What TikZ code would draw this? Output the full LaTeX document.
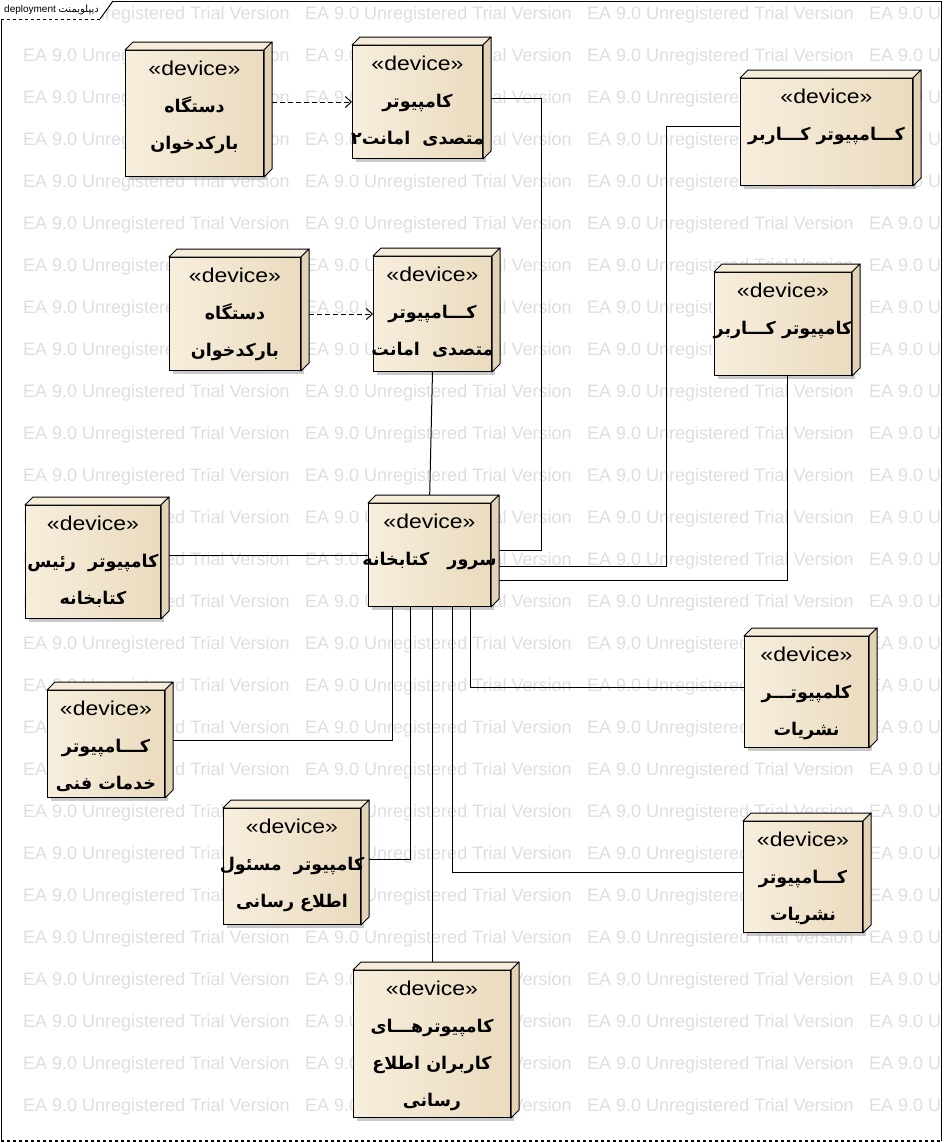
\documentclass[tikz,border=0pt]{standalone}
\usepackage{fontspec}
\usepackage{tikz}
\usetikzlibrary{arrows.meta,shadows}
\setmainfont{Liberation Sans}
\newfontfamily\farsi[Script=Arabic]{DejaVu Sans}
\newfontfamily\stereofont[FakeStretch=1.15]{Liberation Sans}
\TeXXeTstate=1
\definecolor{devleft}{RGB}{247,238,221}
\definecolor{devright}{RGB}{234,219,190}
\definecolor{devtop}{RGB}{245,236,218}
\definecolor{devside}{RGB}{226,211,182}
\newcommand{\pers}[1]{{\farsi\bfseries\beginR #1\endR}}
\newcommand{\stereo}{{\stereofont\fontsize{20}{37}\selectfont «device»}}
\begin{document}
\begin{tikzpicture}[x=1pt,y=-1pt,
    device/.style={draw, line width=1pt, anchor=north west, inner sep=0pt,
        left color=devleft, right color=devright,
        drop shadow={shadow xshift=3pt, shadow yshift=-3pt, fill=black!35, opacity=.6}},
    devtext/.style={anchor=north, align=center, inner sep=0pt, font=\fontsize{17.5}{37}\selectfont},
    face/.style={line width=1pt, line join=round},
    link/.style={line width=1pt},
    dep/.style={line width=1pt, dash pattern=on 5pt off 3pt, -{Straight Barb[length=6pt,width=11pt]}},
    wmark/.style={anchor=west, text=black!13, font=\fontsize{18}{20}\selectfont, inner sep=0pt}]
    \useasboundingbox (0,0) rectangle (943,1143);
    % watermark
    \begin{scope}
        \clip (1,1) rectangle (941,1141);
        \foreach \r in {0,...,26}
            \foreach \c in {0,...,3}
                \node[wmark] (wm-\r-\c) at (23+282*\c,15+42*\r) {EA 9.0 Unregistered Trial Version};
    \end{scope}
    % frame
    \draw[line width=1pt] (1,1141) -- (1,1) -- (941,1) -- (941,1141);
    \draw[line width=1.5pt, dashed] (1,1141) -- (941,1141);
    \fill[white] (1,1) -- (113,1) -- (100,19) -- (1,19) -- cycle;
    \draw[line width=1pt] (113,1) -- (100,19);
    \draw[line width=1pt, dashed] (100,19) -- (1,19);
    \node[anchor=west, inner sep=0pt, font=\fontsize{10}{11}\selectfont] (tab) at (4,10) {deployment {\farsi\beginR دیپلویمنت\endR}};
    % devices
    \node[device, minimum width=138pt, minimum height=126pt] (bar1) at (125,50) {};
    \node[device, minimum width=130pt, minimum height=113pt] (amn2) at (352,45) {};
    \node[device, minimum width=172pt, minimum height=107pt] (usr1) at (740,78) {};
    \node[device, minimum width=131pt, minimum height=113pt] (bar2) at (169,257) {};
    \node[device, minimum width=118pt, minimum height=115pt] (amn1) at (373,256) {};
    \node[device, minimum width=137pt, minimum height=103pt] (usr2) at (714,272) {};
    \node[device, minimum width=122pt, minimum height=103pt] (srv) at (368,503) {};
    \node[device, minimum width=135pt, minimum height=113pt] (head) at (25,505) {};
    \node[device, minimum width=117pt, minimum height=107pt] (tech) at (47,690) {};
    \node[device, minimum width=137pt, minimum height=116pt] (info) at (223,808) {};
    \node[device, minimum width=157pt, minimum height=147pt] (iusr) at (353,970) {};
    \node[device, minimum width=124pt, minimum height=111pt] (ser1) at (744,636) {};
    \node[device, minimum width=119pt, minimum height=111pt] (ser2) at (743,821) {};
    % connectors
    \draw[dep] (bar1.east |- amn2.west) -- (amn2.west);
    \draw[dep] (bar2.east) -- (amn1.west);
    \draw[link] ([yshift=4pt]amn2.east) -- ++(58,0) |- ([yshift=5pt]srv.east);
    \draw[link] ([yshift=6pt]usr1.west) -- ++(-74,0) |- ([yshift=-11pt]srv.east);
    \draw[link] ([xshift=4pt]usr2.south) |- ([yshift=-25pt]srv.east);
    \draw[link] (amn1.south) -- (srv.north);
    \draw[link] (head.east |- srv.west) -- (srv.west);
    \draw[link] ([yshift=4pt]tech.east) -| ([xshift=-37pt]srv.south);
    \draw[link] ([yshift=7pt]info.east) -| ([xshift=-19pt]srv.south);
    \draw[link] (iusr.north) -- (iusr.north |- srv.south);
    \draw[link] ([yshift=5pt]ser1.west) -| ([xshift=41pt]srv.south);
    \draw[link] ([yshift=5pt]ser2.west) -| ([xshift=23pt]srv.south);
    % 3d faces
    \foreach \n in {bar1,amn2,usr1,bar2,amn1,usr2,srv,head,tech,info,iusr,ser1,ser2} {
        \filldraw[face, fill=devtop] (\n.north west) -- ++(8,-8) -- ([shift={(8,-8)}]\n.north east) -- (\n.north east) -- cycle;
        \filldraw[face, fill=devside] (\n.north east) -- ++(8,-8) -- ([shift={(8,-8)}]\n.south east) -- (\n.south east) -- cycle;
    }
    % labels
    \node[devtext] (bar1-t) at ([yshift=-11pt]bar1.north) {\stereo\\ \pers{دستگاه}\\ \pers{بارکدخوان}};
    \node[devtext] (amn2-t) at ([yshift=-11pt]amn2.north) {\stereo\\ \pers{کامپیوتر}\\ \pers{متصدی~~امانت۲}};
    \node[devtext] (usr1-t) at ([yshift=-11pt]usr1.north) {\stereo\\ \pers{کـــامپیوتر کـــاربر}};
    \node[devtext] (bar2-t) at ([yshift=-11pt]bar2.north) {\stereo\\ \pers{دستگاه}\\ \pers{بارکدخوان}};
    \node[devtext] (amn1-t) at ([yshift=-11pt]amn1.north) {\stereo\\ \pers{کـــامپیوتر}\\ \pers{متصدی~~امانت}};
    \node[devtext] (usr2-t) at ([yshift=-11pt]usr2.north) {\stereo\\ \pers{کامپیوتر کـــاربر}};
    \node[devtext] (srv-t) at ([yshift=-11pt]srv.north) {\stereo\\ \pers{سرور~~~کتابخانه}};
    \node[devtext] (head-t) at ([yshift=-11pt]head.north) {\stereo\\ \pers{کامپیوتر~~رئیس}\\ \pers{کتابخانه}};
    \node[devtext] (tech-t) at ([yshift=-11pt]tech.north) {\stereo\\ \pers{کـــامپیوتر}\\ \pers{خدمات فنی}};
    \node[devtext] (info-t) at ([yshift=-11pt]info.north) {\stereo\\ \pers{کامپیوتر~~مسئول}\\ \pers{اطلاع رسانی}};
    \node[devtext] (iusr-t) at ([yshift=-11pt]iusr.north) {\stereo\\ \pers{کامپیوترهـــای}\\ \pers{کاربران اطلاع}\\ \pers{رسانی}};
    \node[devtext] (ser1-t) at ([yshift=-11pt]ser1.north) {\stereo\\ \pers{کلمپیوتـــر}\\ \pers{نشریات}};
    \node[devtext] (ser2-t) at ([yshift=-11pt]ser2.north) {\stereo\\ \pers{کـــامپیوتر}\\ \pers{نشریات}};
\end{tikzpicture}
\end{document}
